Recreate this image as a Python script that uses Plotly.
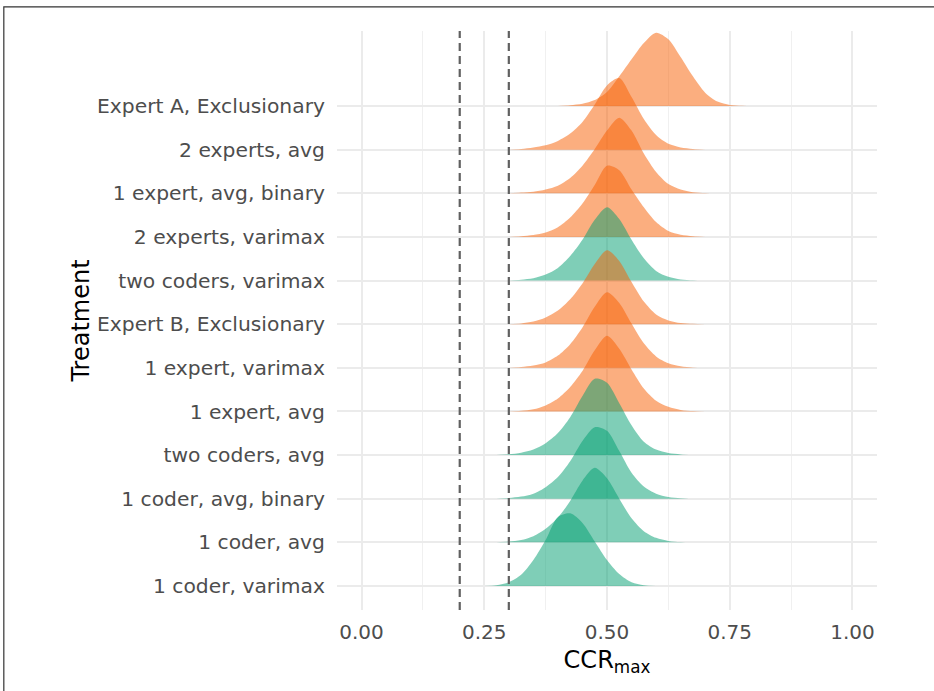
import plotly.graph_objects as go

# Categories, bottom to top
treatments = [
    "1 coder, varimax", "1 coder, avg", "1 coder, avg, binary", "two coders, avg",
    "1 expert, avg", "1 expert, varimax", "Expert B, Exclusionary", "two coders, varimax",
    "2 experts, varimax", "1 expert, avg, binary", "2 experts, avg", "Expert A, Exclusionary",
]
coder_group = ["coder", "coder", "coder", "coder", "expert", "expert", "expert", "coder",
               "expert", "expert", "expert", "expert"]

ccr_grid = [0.250, 0.275, 0.300, 0.325, 0.350, 0.375, 0.400, 0.425, 0.450, 0.475, 0.500,
            0.525, 0.550, 0.575, 0.600, 0.625, 0.650, 0.675, 0.700, 0.725, 0.750, 0.775, 0.800]

dens_1_coder_varimax = [0, .07, .33, .99, 2.31, 4.09, 6.14, 6.47, 5.61, 3.96, 2.31, 1.06, .33, .07, 0, 0, 0, 0, 0, 0, 0, 0, 0]
dens_1_coder_avg = [0, 0, .07, .2, .54, 1.21, 2.21, 3.69, 5.49, 6.63, 5.7, 3.89, 2.14, 1.0, .4, .13, .03, 0, 0, 0, 0, 0, 0]
dens_1_coder_avg_binary = [0, 0, .06, .19, .45, 1.03, 1.93, 3.34, 5.14, 6.37, 6.04, 4.24, 2.31, 1.09, .45, .16, .05, 0, 0, 0, 0, 0, 0]
dens_two_coders_avg = [0, 0, .07, .21, .49, 1.05, 1.96, 3.36, 5.25, 6.79, 6.44, 4.62, 2.66, 1.19, .49, .18, .06, 0, 0, 0, 0, 0, 0]
dens_1_expert_avg = [0, 0, 0, .07, .2, .54, 1.16, 2.18, 3.6, 5.44, 6.73, 5.58, 3.74, 2.04, .95, .41, .14, .04, 0, 0, 0, 0, 0]
dens_1_expert_varimax = [0, 0, 0, .07, .2, .48, 1.09, 2.11, 3.6, 5.44, 6.73, 5.78, 3.94, 2.18, 1.02, .41, .14, .04, 0, 0, 0, 0, 0]
dens_expert_b = [0, 0, 0, .07, .23, .6, 1.21, 2.21, 3.62, 5.36, 6.57, 5.63, 3.75, 2.01, .87, .34, .1, .03, 0, 0, 0, 0, 0]
dens_two_coders_varimax = [0, 0, 0, .07, .2, .53, 1.12, 2.18, 3.63, 5.41, 6.53, 5.48, 3.63, 1.98, .86, .33, .1, .03, 0, 0, 0, 0, 0]
dens_2_experts_varimax = [0, 0, 0, .07, .17, .4, .86, 1.72, 2.97, 4.62, 6.34, 5.94, 4.22, 2.64, 1.32, .53, .2, .07, 0, 0, 0, 0, 0]
dens_1_expert_avg_binary = [0, 0, 0, .07, .14, .34, .68, 1.36, 2.45, 3.94, 5.58, 6.73, 5.58, 3.54, 1.9, .82, .34, .1, .03, 0, 0, 0, 0]
dens_2_experts_avg = [0, 0, 0, .07, .2, .39, .78, 1.43, 2.47, 4.03, 5.72, 6.37, 4.68, 2.73, 1.3, .52, .2, .07, 0, 0, 0, 0, 0]
dens_expert_a = [0, 0, 0, 0, 0, 0, 0, .07, .2, .53, 1.25, 2.64, 4.16, 5.61, 6.53, 5.94, 4.36, 2.64, 1.19, .4, .1, .03, 0]

densities = [
    dens_1_coder_varimax, dens_1_coder_avg, dens_1_coder_avg_binary, dens_two_coders_avg,
    dens_1_expert_avg, dens_1_expert_varimax, dens_expert_b, dens_two_coders_varimax,
    dens_2_experts_varimax, dens_1_expert_avg_binary, dens_2_experts_avg, dens_expert_a,
]

threshold_lines = [0.2, 0.3]
x_ticks = [0.0, 0.25, 0.5, 0.75, 1.0]
x_tick_labels = ["0.00", "0.25", "0.50", "0.75", "1.00"]

SCALE = 0.2576
fill_colors = {"expert": "rgba(248,94,0,0.5)", "coder": "rgba(0,158,112,0.5)"}

fig = go.Figure()
# draw top ridge first so lower ridges overlay
for i in reversed(range(len(treatments))):
    d = densities[i]
    nz = [k for k, v in enumerate(d) if v > 0]
    lo = max(nz[0] - 1, 0)
    hi = min(nz[-1] + 1, len(d) - 1)
    xs = ccr_grid[lo:hi + 1]
    base = i + 1
    ys = [base + v * SCALE for v in d[lo:hi + 1]]
    fig.add_trace(go.Scatter(x=[xs[0], xs[-1]], y=[base, base], mode="lines",
                             line=dict(width=0), showlegend=False, hoverinfo="skip"))
    fig.add_trace(go.Scatter(x=xs, y=ys, mode="lines", fill="tonexty",
                             fillcolor=fill_colors[coder_group[i]],
                             line=dict(width=0, shape="spline", smoothing=0.8),
                             showlegend=False, name=treatments[i]))

for t in threshold_lines:
    fig.add_shape(type="line", x0=t, x1=t, xref="x", y0=0, y1=1, yref="paper",
                  line=dict(color="#606060", width=2.2, dash="8px,5px"))

# outer frame
fig.add_shape(type="rect", xref="paper", yref="paper", x0=-0.617, x1=1.2, y0=-0.3, y1=1.0415,
              line=dict(color="#333333", width=1.2), fillcolor="rgba(0,0,0,0)", layer="above")

fig.update_layout(
    width=934, height=691,
    margin=dict(l=337, r=57, t=31, b=81),
    paper_bgcolor="white", plot_bgcolor="white",
    font=dict(family="DejaVu Sans", color="#4D4D4D"),
    xaxis=dict(range=[-0.05, 1.05], tickvals=x_ticks, ticktext=x_tick_labels,
               showgrid=True, gridcolor="#EBEBEB", gridwidth=2, zeroline=False,
               showline=False, ticks="", ticklabelstandoff=8,
               tickfont=dict(size=20, color="#4D4D4D"),
               minor=dict(tickvals=[0.125, 0.375, 0.625, 0.875], showgrid=True,
                          gridcolor="#F0F0F0", gridwidth=1),
               title=dict(text="CCR<sub>max</sub>", font=dict(size=24, color="black"), standoff=8)),
    yaxis=dict(range=[0.45, 13.72], tickvals=list(range(1, len(treatments) + 1)), ticktext=treatments,
               showgrid=True, gridcolor="#EBEBEB", gridwidth=2, zeroline=False,
               showline=False, ticks="", ticklabelstandoff=11,
               tickfont=dict(size=20.3, color="#4D4D4D"),
               title=dict(text="Treatment", font=dict(size=24, color="black"), standoff=0)),
)

fig.write_html("out.html", config={"displayModeBar": False},
               post_script="document.body.style.margin='0px';")
